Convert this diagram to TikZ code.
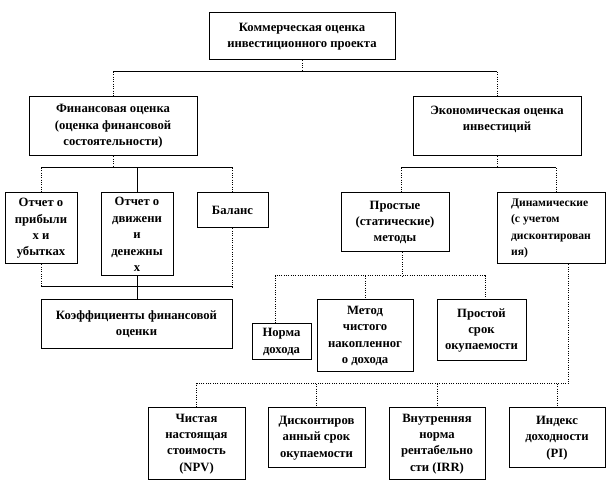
\documentclass[tikz,border=0pt]{standalone}
\usepackage{fontspec}
\setmainfont{Liberation Serif}
\usetikzlibrary{calc}
\tikzset{box/.style={draw, line width=0.75pt, align=center, inner sep=1pt,
   font=\fontsize{9.5}{12.3}\selectfont\bfseries},
 sz/.style 2 args={minimum width=#1*0.75pt, minimum height=#2*0.75pt},
 link/.style={draw, line width=0.75pt},
 dotlink/.style={draw, line width=0.75pt, densely dotted},
 }

\begin{document}
\begin{tikzpicture}[x=0.75pt,y=-0.75pt]
        \useasboundingbox (0,0) rectangle (612,492);

        % upper levels
        \node[box,sz={186}{47}] (top) at (302,36.5) {Коммерческая оценка\\инвестиционного проекта};
        \node[box,sz={168}{59}] (fin) at (113,126.5) {Финансовая оценка\\(оценка финансовой\\состоятельности)};
        \node[box,sz={168}{59}] (eco) at (497,126.5) {Экономическая оценка\\инвестиций\\\mbox{}};

        % financial side
        \node[box,sz={72}{71}] (pl) at (41,228.5) {Отчет о\\прибыли\\х и\\убытках};
        \node[box,sz={72}{83}] (cf) at (137,234.5) {Отчет о\\движени\\и\\денежны\\х};
        \node[box,sz={71}{35}] (bal) at (232.5,210.5) {Баланс};
        \node[box,sz={191}{49}] (coef) at (136.5,324.5) {Коэффициенты финансовой\\оценки};

        % economic side
        \node[box,sz={108}{59}] (simple) at (395,222.5) {Простые\\(статические)\\методы};
        \node[box,sz={108}{71},align=left,font=\fontsize{8.7}{12.3}\selectfont\bfseries] (dyn) at (551,228.5) {Динамические\\(с учетом\\дисконтирован\\ия)};
        \node[box,sz={59}{36}] (norm) at (281.5,342) {Норма\\дохода};
        \node[box,sz={96}{72}] (accum) at (365,336) {Метод\\чистого\\накопленног\\о дохода};
        \node[box,sz={89}{61}] (payback) at (481.5,330.5) {Простой\\срок\\окупаемости};

        % dynamic methods
        \node[box,sz={97}{72}] (npv) at (196.5,444) {Чистая\\настоящая\\стоимость\\(NPV)};
        \node[box,sz={97}{60}] (dpp) at (316.5,438) {Дисконтиров\\анный срок\\окупаемости};
        \node[box,sz={96}{72}] (irr) at (437,444) {Внутренняя\\норма\\рентабельно\\сти (IRR)};
        \node[box,sz={96}{60}] (pi) at (557,438) {Индекс\\доходности\\(PI)};

        % top bus
        \coordinate (busA) at (302,72);
        \draw[dotlink] (top.south) -- (busA);
        \draw[link] (fin.north |- busA) -- (eco.north |- busA);
        \draw[dotlink] (fin.north |- busA) -- (fin.north);
        \draw[dotlink] (eco.north |- busA) -- (eco.north);

        % financial bus
        \coordinate (busB) at (113,168);
        \draw[dotlink] (fin.south) -- (busB);
        \draw[link] (pl.north |- busB) -- (bal.north |- busB);
        \draw[dotlink] (pl.north |- busB) -- (pl.north);
        \draw[link] (cf.north |- busB) -- (cf.north);
        \draw[dotlink] (bal.north |- busB) -- (bal.north);

        \coordinate (busC) at (137,287);
        \draw[dotlink] (pl.south) -- (pl.south |- busC);
        \draw[dotlink] (bal.south) -- (bal.south |- busC);
        \draw[link] (pl.south |- busC) -- (bal.south |- busC);
        \draw[link] (cf.south) -- (cf.south |- coef.north);

        % economic bus
        \coordinate (busD) at (497,168);
        \coordinate (sIn) at ($(simple.north)+(6,0)$);
        \coordinate (dIn) at ($(dyn.north)+(5,0)$);
        \draw[dotlink] (eco.south) -- (busD);
        \draw[link] (sIn |- busD) -- (dIn |- busD);
        \draw[dotlink] (sIn |- busD) -- (sIn);
        \draw[dotlink] (dIn |- busD) -- (dIn);

        % simple methods
        \coordinate (busE) at (402,276);
        \coordinate (nIn) at ($(norm.north)+(-6.5,0)$);
        \coordinate (pIn) at ($(payback.north)+(3.5,0)$);
        \draw[dotlink] (simple.south -| busE) -- (busE);
        \draw[dotlink] (nIn) |- (busE) -| (pIn);
        \draw[dotlink] (accum.north |- busE) -- (accum.north);

        % dynamic methods
        \coordinate (dynOut) at ($(dyn.south)+(17,0)$);
        \coordinate (busF) at (568,384);
        \draw[dotlink] (dynOut) -- (busF) -| (npv.north);
        \draw[dotlink] (dpp.north |- busF) -- (dpp.north);
        \draw[dotlink] (irr.north |- busF) -- (irr.north);
        \draw[dotlink] (pi.north |- busF) -- (pi.north);
    \end{tikzpicture}
\end{document}
